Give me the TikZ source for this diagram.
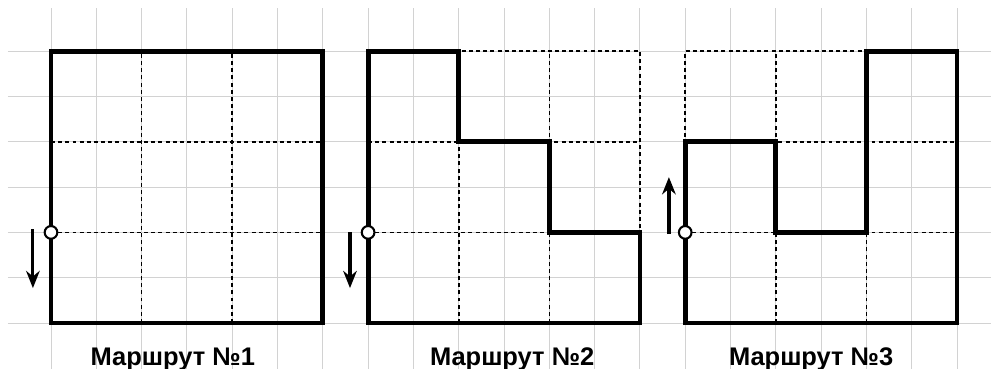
\documentclass[tikz,border=0pt]{standalone}
\usepackage{fontspec}
\setmainfont{Liberation Sans}
\usetikzlibrary{arrows.meta}

\tikzset{
    gridline/.style={gray!35, line width=0.6pt},
    helper/.style={dash pattern=on 2.5pt off 2pt, line width=1pt},
    route/.style={line width=3pt, line join=miter},
    startpt/.style={circle, draw, fill=white, line width=1.3pt, inner sep=0pt, minimum size=2.8mm},
    dirarrow/.style={line width=2pt, -{Stealth[length=3.8mm, width=3mm]}},
    caption/.style={font=\bfseries\fontsize{16}{16}\selectfont, anchor=base}
}

\begin{document}
\begin{tikzpicture}[>=Stealth, x=1cm, y=1cm]
        \useasboundingbox (-1.126,-1.015) rectangle (20.75,7.13);

        % Squared paper
        \foreach \x in {0,...,20} {
            \draw[gridline] (\x,-1.1) -- (\x,6.95);
        }
        \foreach \y in {0,...,6} {
            \draw[gridline] (-0.95,\y) -- (20.8,\y);
        }

        % Dashed 3x3 blocks under every route
        \foreach \o in {0,7,14} {
            \draw[helper] (\o,0) rectangle (\o+6,6);
            \foreach \k in {2,4} {
                \draw[helper] (\o+\k,0) -- (\o+\k,6);
                \draw[helper] (\o,\k) -- (\o+6,\k);
            }
        }

        % Route 1
        \draw[route] (0,0) rectangle (6,6);
        % Route 2
        \draw[route] (7,0) -- (7,6) -- (9,6) -- (9,4) -- (11,4) -- (11,2)
            -- (13,2) -- (13,0) -- cycle;
        % Route 3
        \draw[route] (14,0) -- (14,4) -- (16,4) -- (16,2) -- (18,2) -- (18,6)
            -- (20,6) -- (20,0) -- cycle;

        % Start points
        \node[startpt] (s1) at (0,2) {};
        \node[startpt] (s2) at (7,2) {};
        \node[startpt] (s3) at (14,2) {};

        % Direction arrows
        \coordinate (a1) at (-0.4,2.07);
        \coordinate (b1) at (-0.4,0.77);
        \coordinate (a2) at (6.6,2.0);
        \coordinate (b2) at (6.6,0.77);
        \coordinate (a3) at (13.64,1.96);
        \coordinate (b3) at (13.64,3.22);
        \draw[dirarrow] (a1) -- (b1);
        \draw[dirarrow] (a2) -- (b2);
        \draw[dirarrow] (a3) -- (b3);

        % Captions
        \node[caption] (c1) at (2.69,-0.93) {Маршрут №1};
        \node[caption] (c2) at (10.18,-0.93) {Маршрут №2};
        \node[caption] (c3) at (16.78,-0.93) {Маршрут №3};

\end{tikzpicture}
\end{document}
